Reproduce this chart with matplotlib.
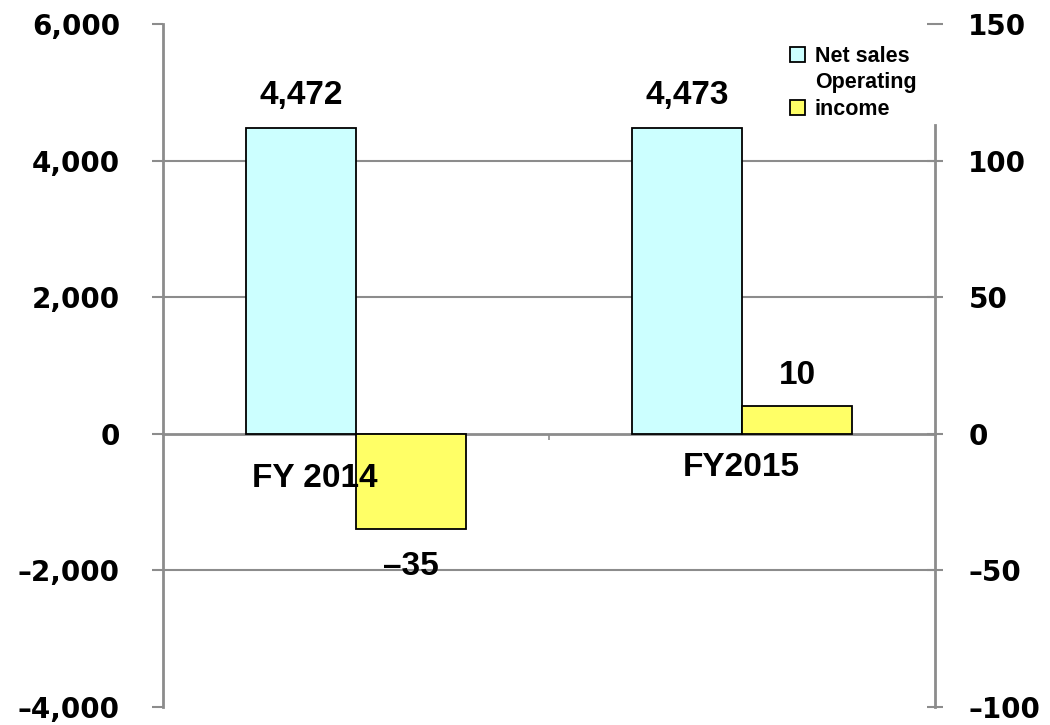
#!/usr/bin/env python3

import numpy as np
import matplotlib.pyplot as plt
from matplotlib.patches import Patch

years = ["FY 2014", "FY2015"]
net_sales = [4472, 4473]
op_income = [-35, 10]

left_ticks = [-4000, -2000, 0, 2000, 4000, 6000]
right_ticks = [-100, -50, 0, 50, 100, 150]

plt.rcParams["font.family"] = "DejaVu Sans"
plt.rcParams["font.weight"] = "bold"
LAB = dict(family="Liberation Sans", weight="bold", fontsize=24)

GRAY = "#8c8c8c"
W = 0.285

def dash(s):
    return s.replace("-", "\u2013")

fig = plt.figure(figsize=(10.5, 7.25), dpi=100)
ax = fig.add_axes([163 / 1050, 1 - 707 / 725, 772 / 1050, 683 / 725])
ax2 = ax.twinx()

x = np.arange(len(years))

# net sales on the left axis
ax.bar(x - W / 2, net_sales, W, color="#ccffff", edgecolor="black", linewidth=1.3, zorder=3)
ax.set_ylim(-4000, 6000)
ax.set_yticks(left_ticks)
ax.set_yticklabels([dash("{:,}".format(v)) for v in left_ticks], fontsize=20)
for v in left_ticks[1:-1]:
    if v != 0:
        ax.axhline(v, color=GRAY, lw=1.5, zorder=1)
ax.set_xlim(-0.5, 1.5)
ax.set_xticks([0.5])
ax.set_xticklabels([])
ax.tick_params(axis="x", direction="out", length=4, color=GRAY, width=1.2)
ax.tick_params(axis="y", direction="out", length=8, color=GRAY, width=1.5, pad=23)

# operating income on the right axis
ax2.bar(x + W / 2, op_income, W, color="#ffff66", edgecolor="black", linewidth=1.3, zorder=3)
ax2.set_ylim(-100, 150)
ax2.set_yticks(right_ticks)
ax2.set_yticklabels([dash(str(v)) for v in right_ticks], fontsize=20)
ax2.tick_params(axis="y", direction="inout", length=12, color=GRAY, width=1.5, pad=18)

for a in (ax, ax2):
    a.spines["top"].set_visible(False)
    a.patch.set_visible(False)
ax.spines["right"].set_visible(False)
ax2.spines["left"].set_visible(False)
ax2.spines["bottom"].set_visible(False)
ax.spines["left"].set_color(GRAY)
ax.spines["left"].set_linewidth(2)
ax2.spines["right"].set_color(GRAY)
ax2.spines["right"].set_linewidth(2)
# right axis line stops below the legend
ax2.spines["right"].set_bounds(-100, 113)
# zero line doubles as the category axis
ax.spines["bottom"].set_position(("data", 0))
ax.spines["bottom"].set_color(GRAY)
ax.spines["bottom"].set_linewidth(2)
ax.spines["bottom"].set_zorder(2)

# value labels
for i, v in enumerate(net_sales):
    ax.text(x[i] - W / 2, v + 250, "{:,}".format(v), ha="center", va="bottom", **LAB)
for i, v in enumerate(op_income):
    if v < 0:
        ax2.text(x[i] + W / 2, v - 8, dash(str(v)), ha="center", va="top", **LAB)
    else:
        ax2.text(x[i] + W / 2, v + 5.5, str(v), ha="center", va="bottom", **LAB)

# category names sit just under the zero line
ax2.text(x[0] - 0.108, -16.2, years[0], ha="center", va="center", zorder=6, **LAB)
ax2.text(x[1] - 0.002, -12.4, years[1], ha="center", va="center", zorder=6, **LAB)

handles = [Patch(facecolor="#ccffff", edgecolor="black", linewidth=1.3),
           Patch(facecolor="none", edgecolor="none"),
           Patch(facecolor="#ffff66", edgecolor="black", linewidth=1.3)]
leg = ax2.legend(handles, ["Net sales", "Operating", "income"], loc="upper left",
                 bbox_to_anchor=(775 / 1050, 1 - 31 / 725), bbox_transform=fig.transFigure,
                 frameon=False, prop=dict(family="Liberation Sans", weight="bold", size=15.5),
                 handlelength=0.7, handleheight=0.7, handletextpad=0.45,
                 labelspacing=0.25, borderpad=0.2)

plt.savefig("out.png", dpi=100)
